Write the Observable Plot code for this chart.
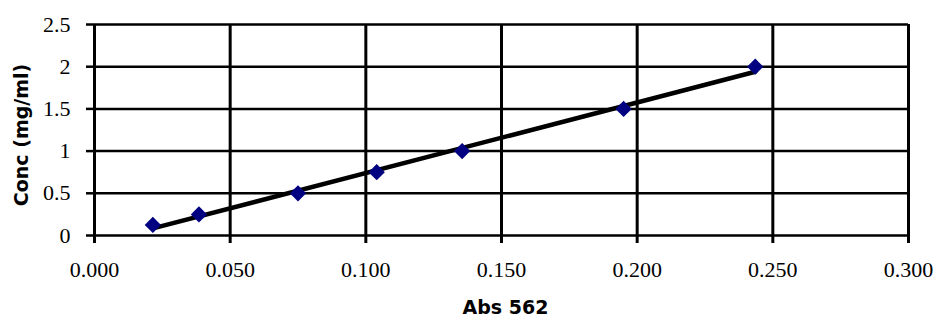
<!DOCTYPE html>
<html>
<head>
<meta charset="utf-8">
<script src="https://cdn.jsdelivr.net/npm/d3@7"></script>
<script src="https://cdn.jsdelivr.net/npm/@observablehq/plot@0.6"></script>
<style>
  html, body { margin: 0; padding: 0; background: #fff; }
</style>
</head>
<body>
<div id="chart"></div>
<script>
const absorbance = [0.0215, 0.0385, 0.075, 0.104, 0.1355, 0.195, 0.2435];
const concentration = [0.125, 0.25, 0.5, 0.75, 1.0, 1.5, 2.0];
const xTicks = [0, 0.05, 0.1, 0.15, 0.2, 0.25, 0.3];
const yTicks = [0, 0.5, 1, 1.5, 2, 2.5];
const xTitle = "Abs 562";
const yTitle = "Conc (mg/ml)";

const data = absorbance.map((a, i) => ({abs: a, conc: concentration[i]}));

const tickFont = "Liberation Serif";
const titleFont = "DejaVu Sans";

const chart = Plot.plot({
  width: 936,
  height: 320,
  marginLeft: 94,
  marginRight: 28,
  marginTop: 24,
  marginBottom: 85,
  style: {background: "#fff", color: "#000"},
  x: {domain: [0, 0.3]},
  y: {domain: [0, 2.5]},
  marks: [
    Plot.gridX(xTicks, {stroke: "#000", strokeOpacity: 1, strokeWidth: 3}),
    Plot.gridY(yTicks, {stroke: "#000", strokeOpacity: 1, strokeWidth: 2.5}),
    Plot.axisX({ticks: xTicks, tickFormat: d3.format(".3f"), tickSize: 8, tickPadding: 18,
      strokeWidth: 3, fontSize: 22, fontFamily: tickFont, label: null}),
    Plot.axisY({ticks: yTicks, tickFormat: d => String(d), tickSize: 8, tickPadding: 16,
      strokeWidth: 2.5, fontSize: 22, fontFamily: tickFont, label: null}),
    Plot.linearRegressionY(data, {x: "abs", y: "conc", ci: 0, stroke: "#000", strokeWidth: 4.5}),
    Plot.dot(data, {x: "abs", y: "conc", symbol: "square", rotate: 45, r: 6.5, fill: "#000080", stroke: "none"}),
    Plot.text([xTitle], {frameAnchor: "bottom", lineAnchor: "middle", textAnchor: "middle", dy: 72, dx: 4,
      fontSize: 19, fontWeight: "bold", fontFamily: titleFont, fill: "#000"}),
    Plot.text([yTitle], {frameAnchor: "left", lineAnchor: "middle", textAnchor: "middle", dx: -73, dy: 5, rotate: -90,
      fontSize: 19, fontWeight: "bold", fontFamily: titleFont, fill: "#000"})
  ]
});
document.getElementById("chart").appendChild(chart);
</script>
</body>
</html>
